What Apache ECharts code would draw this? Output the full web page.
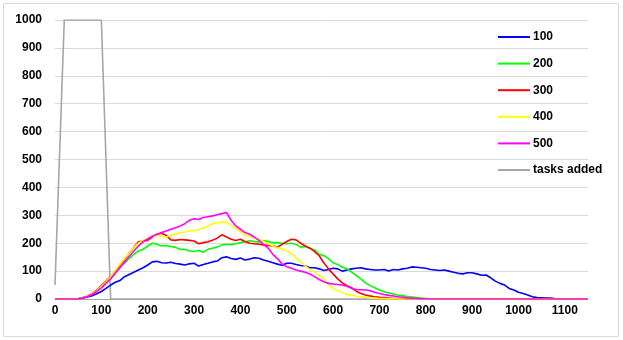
<!DOCTYPE html>
<html lang="en">
<head>
  <meta charset="UTF-8">
  <title>Result</title>
  <style>
    html,
    body {
      padding: 0;
      margin: 0;
      background: #fff;
    }
  </style>
  <script src="https://cdn.jsdelivr.net/npm/echarts@6/dist/echarts.min.js"></script>
</head>
<body>
  <div id="demo" style="width:623px;height:340px"></div>
  <script>
    // time steps (x) shared by the five runs
    const steps = [
      0, 10, 20, 30, 40, 50, 60, 70, 80, 90,
      100, 110, 120, 130, 140, 150, 160, 170, 180, 190,
      200, 210, 220, 230, 240, 250, 260, 270, 280, 290,
      300, 310, 320, 330, 340, 350, 360, 370, 380, 390,
      400, 410, 420, 430, 440, 450, 460, 470, 480, 490,
      500, 510, 520, 530, 540, 550, 560, 570, 580, 590,
      600, 610, 620, 630, 640, 650, 660, 670, 680, 690,
      700, 710, 720, 730, 740, 750, 760, 770, 780, 790,
      800, 810, 820, 830, 840, 850, 860, 870, 880, 890,
      900, 910, 920, 930, 940, 950, 960, 970, 980, 990,
      1000, 1010, 1020, 1030, 1040, 1050, 1060, 1070, 1080, 1090,
      1100, 1110, 1120, 1130, 1140, 1150
    ]

    const run100 = [
      0, 0, 0, 0, 0, 1, 3, 7, 12, 19,
      27, 38, 50, 60, 66, 80, 88, 96, 104, 112,
      122, 133, 135, 130, 129, 132, 127, 125, 122, 126,
      128, 118, 124, 128, 133, 136, 148, 151, 145, 142,
      147, 140, 143, 148, 146, 140, 135, 130, 125, 121,
      128, 128, 124, 120, 118, 112, 112, 108, 102, 106,
      110, 108, 100, 104, 108, 110, 112, 108, 106, 104,
      104, 106, 100, 106, 104, 108, 110, 115, 114, 112,
      110, 106, 104, 102, 104, 100, 96, 92, 90, 94,
      94, 90, 85, 86, 76, 64, 56, 50, 38, 32,
      24, 20, 14, 8, 5, 4, 3, 3, 1, 1,
      0, 0, 0, 0, 0, 0
    ]

    const run200 = [
      0, 0, 0, 0, 0, 1, 4, 9, 17, 28,
      42, 60, 76, 95, 112, 128, 145, 160, 172, 178,
      190, 200, 196, 190, 192, 188, 185, 178, 178, 172,
      170, 174, 168, 178, 182, 186, 194, 196, 195, 198,
      202, 205, 209, 206, 204, 210, 206, 202, 202, 200,
      198, 200, 196, 186, 188, 182, 176, 160, 156, 145,
      130, 124, 114, 108, 96, 84, 72, 58, 48, 40,
      32, 26, 22, 18, 14, 12, 9, 7, 5, 3,
      2, 1, 1, 0, 0, 0, 0, 0, 0, 0,
      0, 0, 0, 0, 0, 0, 0, 0, 0, 0,
      0, 0, 0, 0, 0, 0, 0, 0, 0, 0,
      0, 0, 0, 0, 0, 0
    ]

    const run300 = [
      0, 0, 0, 0, 0, 1, 5, 11, 20, 32,
      48, 64, 80, 100, 122, 142, 165, 185, 205, 208,
      210, 222, 232, 236, 228, 212, 210, 213, 212, 210,
      208, 198, 202, 205, 211, 218, 230, 222, 214, 210,
      214, 206, 200, 198, 196, 194, 192, 190, 186, 196,
      206, 214, 212, 200, 190, 182, 170, 155, 130, 108,
      90, 72, 58, 48, 40, 28, 20, 14, 11, 8,
      6, 5, 3, 2, 2, 1, 0, 0, 0, 0,
      0, 0, 0, 0, 0, 0, 0, 0, 0, 0,
      0, 0, 0, 0, 0, 0, 0, 0, 0, 0,
      0, 0, 0, 0, 0, 0, 0, 0, 0, 0,
      0, 0, 0, 0, 0, 0
    ]

    const run400 = [
      0, 0, 0, 0, 0, 1, 5, 11, 19, 30,
      45, 62, 80, 102, 125, 145, 165, 185, 200, 210,
      218, 224, 228, 226, 222, 228, 232, 238, 240, 244,
      246, 248, 255, 262, 270, 273, 276, 274, 264, 252,
      242, 228, 225, 220, 214, 206, 198, 190, 184, 178,
      172, 162, 148, 132, 118, 106, 96, 84, 70, 52,
      38, 30, 22, 16, 14, 10, 8, 6, 4, 3,
      2, 2, 1, 1, 0, 0, 0, 0, 0, 0,
      0, 0, 0, 0, 0, 0, 0, 0, 0, 0,
      0, 0, 0, 0, 0, 0, 0, 0, 0, 0,
      0, 0, 0, 0, 0, 0, 0, 0, 0, 0,
      0, 0, 0, 0, 0, 0
    ]

    const run500 = [
      0, 0, 0, 0, 0, 1, 4, 9, 16, 27,
      40, 56, 72, 92, 112, 132, 152, 172, 190, 205,
      215, 225, 232, 238, 244, 250, 255, 262, 270, 282,
      288, 285, 292, 295, 298, 302, 306, 310, 282, 262,
      250, 238, 232, 222, 210, 196, 182, 160, 145, 125,
      116, 110, 104, 100, 96, 90, 80, 70, 62, 56,
      54, 52, 50, 46, 38, 34, 33, 32, 30, 24,
      20, 16, 13, 11, 8, 6, 4, 3, 2, 1,
      1, 0, 0, 0, 0, 0, 0, 0, 0, 0,
      0, 0, 0, 0, 0, 0, 0, 0, 0, 0,
      0, 0, 0, 0, 0, 0, 0, 0, 0, 0,
      0, 0, 0, 0, 0, 0
    ]

    // tasks added: step profile
    const taskSteps = [0, 20, 100, 120, 1150]
    const taskValues = [50, 1000, 1000, 0, 0]

    const seriesNames = ['100', '200', '300', '400', '500', 'tasks added']
    const seriesColors = ['#0000ff', '#00ff00', '#ff0000', '#ffff00', '#ff00ff', '#a6a6a6']
    const runs = [run100, run200, run300, run400, run500]

    const font = 'Liberation Sans'

    const chart = echarts.init(document.getElementById('demo'))

    const pair = (xs, ys) => xs.map((x, i) => [x, ys[i]])

    const series = runs.map((run, i) => ({
      name: seriesNames[i],
      type: 'line',
      data: pair(steps, run),
      showSymbol: false,
      symbol: 'none',
      lineStyle: { width: 1.6, color: seriesColors[i] },
      itemStyle: { color: seriesColors[i] },
      animation: false,
      z: 3 + i
    }))
    series.push({
      name: seriesNames[5],
      type: 'line',
      data: pair(taskSteps, taskValues),
      showSymbol: false,
      symbol: 'none',
      lineStyle: { width: 1.6, color: seriesColors[5] },
      itemStyle: { color: seriesColors[5] },
      animation: false,
      z: 2
    })

    const plain = v => String(v)

    const option = {
      animation: false,
      graphic: [{
        type: 'rect',
        shape: { x: 3.5, y: 3.5, width: 615, height: 333 },
        style: { fill: 'none', stroke: '#d9d9d9', lineWidth: 1 },
        silent: true
      }],
      grid: { left: 55, right: 35, top: 20, bottom: 41 },
      legend: {
        orient: 'vertical',
        left: 498,
        top: 30,
        padding: 0,
        icon: 'rect',
        itemWidth: 32,
        itemHeight: 2,
        itemGap: 12.6,
        data: seriesNames,
        textStyle: { fontFamily: font, fontWeight: 'bold', fontSize: 12, color: '#000', lineHeight: 14, padding: [0, 0, 0, -2] }
      },
      xAxis: {
        type: 'value',
        min: 0,
        max: 1150,
        interval: 100,
        axisLine: { show: true, lineStyle: { color: '#a6a6a6', width: 1 } },
        axisTick: { show: false },
        splitLine: { show: false },
        axisLabel: { showMaxLabel: false, margin: 6, formatter: plain, fontFamily: font, fontWeight: 'bold', fontSize: 12, color: '#000' }
      },
      yAxis: {
        type: 'value',
        min: 0,
        max: 1000,
        interval: 100,
        axisLine: { show: false },
        axisTick: { show: false },
        splitLine: { lineStyle: { color: '#d9d9d9', width: 1 } },
        axisLabel: { margin: 13, formatter: plain, fontFamily: font, fontWeight: 'bold', fontSize: 12, color: '#000' }
      },
      series: series
    }
    chart.setOption(option)
  </script>
</body>
</html>
